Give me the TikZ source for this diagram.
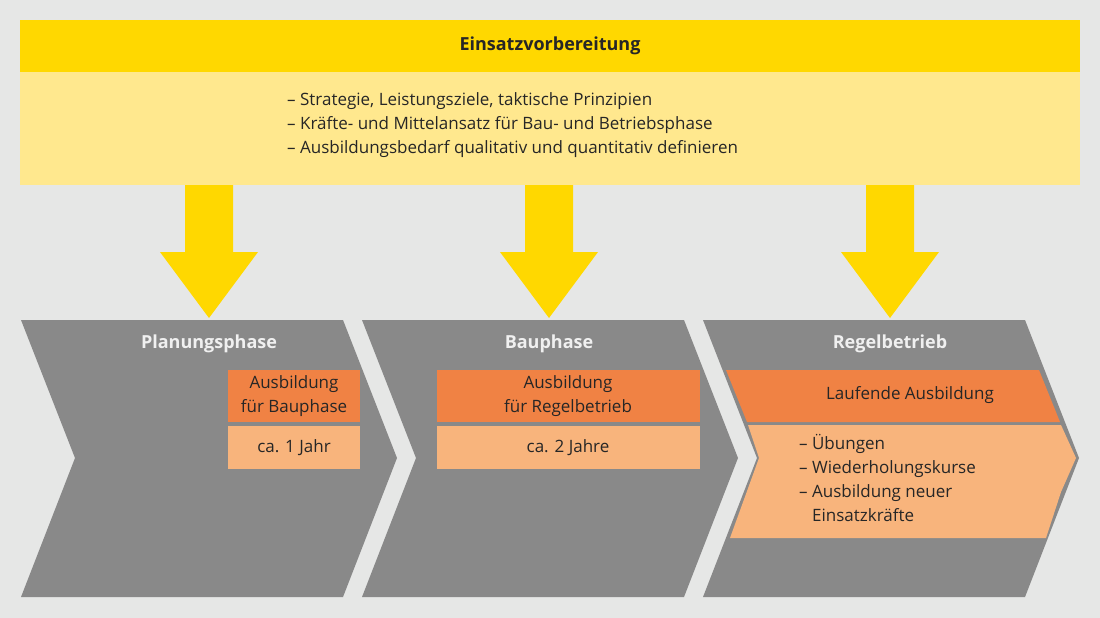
\documentclass[tikz,border=0pt]{standalone}
\usepackage{fontspec}
\setmainfont{Open Sans}
\definecolor{bg}{HTML}{E6E7E6}
\definecolor{yel}{HTML}{FFD800}
\definecolor{lyel}{HTML}{FFE88E}
\definecolor{chev}{HTML}{898989}
\definecolor{ora}{HTML}{F08244}
\definecolor{lora}{HTML}{F8B47C}
\begin{document}
\begin{tikzpicture}[x=1pt,y=-1pt,
  txt/.style={font=\fontsize{17}{24}\selectfont, text=black!85, inner sep=0pt},
  head/.style={font=\bfseries\fontsize{18}{22}\selectfont, text=white!94!black, inner sep=0pt},
  arr/.style={fill=yel}]
\fill[bg] (0,0) rectangle (1100,618);
\useasboundingbox (0,0) rectangle (1100,618);
\fill[yel] (20,20) rectangle (1080,72);
\fill[lyel] (20,72) rectangle (1080,185);
\node[head,text=black!85] (title) at (550,46) {Einsatzvorbereitung};
\node[txt,align=left,anchor=north west] (top) at (287,92) {– Strategie, Leistungsziele, taktische Prinzipien\\– Kräfte- und Mittelansatz für Bau- und Betriebsphase\\– Ausbildungsbedarf qualitativ und quantitativ definieren};
\foreach \c in {209,549,890}{
  \fill[arr] (\c-24,185) -- (\c+24,185) -- (\c+24,252) -- (\c+49,252) -- (\c,318) -- (\c-49,252) -- (\c-24,252) -- cycle;
}
\foreach \x in {21,362,703}{
  \fill[chev] (\x,320) -- (\x+322,320) -- (\x+376,458) -- (\x+322,597) -- (\x,597) -- (\x+54,458) -- cycle;
}
\node[head] (p1) at (209,344) {Planungsphase};
\node[head] (p2) at (549,344) {Bauphase};
\node[head] (p3) at (890,344) {Regelbetrieb};
% Planungsphase boxes
\fill[ora] (228,370) rectangle (360,422);
\fill[lora] (228,426) rectangle (360,469);
\node[txt,align=center] (a1) at (294,396) {Ausbildung\\für Bauphase};
\node[txt] (b1) at (294,448) {ca. 1 Jahr};
% Bauphase boxes
\fill[ora] (437,370) rectangle (700,422);
\fill[lora] (437,426) rectangle (700,469);
\node[txt,align=center] (a2) at (568,396) {Ausbildung\\für Regelbetrieb};
\node[txt] (b2) at (568,448) {ca. 2 Jahre};
% Regelbetrieb bands
\fill[ora] (726,370) -- (1039,370) -- (1060,422) -- (747,422) -- cycle;
\fill[lora] (748,425) -- (1061,425) -- (1076,458) -- (1061,492) -- (1046,538) -- (730,538) -- (759,458) -- cycle;
\node[txt] (a3) at (910,395) {Laufende Ausbildung};
\node[txt,align=left,anchor=north west] (b3) at (799,434) {– Übungen\\– Wiederholungskurse\\– Ausbildung neuer\\\phantom{– }Einsatzkräfte};
\end{tikzpicture}
\end{document}
